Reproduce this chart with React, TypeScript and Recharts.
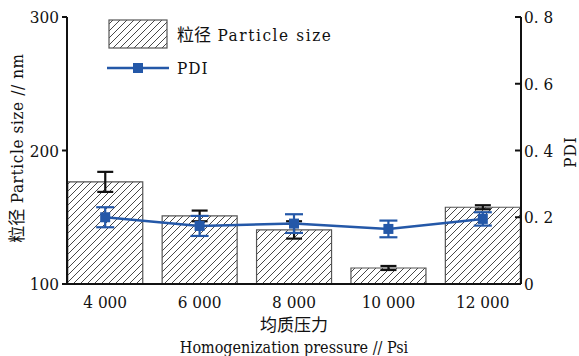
import { ComposedChart, Bar, Line, XAxis, YAxis, ErrorBar } from 'recharts';

const pressures = ['4 000', '6 000', '8 000', '10 000', '12 000'];
const sizes = [176.5, 151, 140.5, 112, 157.5];
const sizeErrs = [7.5, 4, 6.5, 1.5, 1.5];
const pdis = [0.2, 0.174, 0.181, 0.165, 0.195];
const pdiErrs = [0.03, 0.03, 0.028, 0.025, 0.02];

const sizeTicks = [100, 200, 300];
const pdiTicks = [0, 0.2, 0.4, 0.6, 0.8];

const BLUE = '#2458a8';
const SERIF = 'DejaVu Serif Condensed, DejaVu Serif, serif';
const CJK = 'Noto Sans CJK SC, sans-serif';

const data = pressures.map((p, i) => ({
  name: p,
  size: sizes[i],
  sizeErr: sizeErrs[i],
  pdi: pdis[i],
  pdiErr: pdiErrs[i],
}));

const fmtPdi = (v: number) => (v === 0 ? '0' : v.toFixed(1).replace('.', '. '));

const SquareDot = (props: any) => {
  const { cx, cy } = props;
  if (cx == null || cy == null) return null;
  return <rect x={cx - 5} y={cy - 5} width={10} height={10} fill={BLUE} />;
};

const serifText = { fontFamily: SERIF, fontSize: 17, fill: '#111' };

// left axis labels
const LeftTick = (props: any) => {
  const { x, y, payload } = props;
  return (
    <text x={x} y={y} dy={6} textAnchor="end" style={serifText}>
      {payload.value}
    </text>
  );
};

// right axis: tick marks point inward, labels sit right against the axis line
const RightTick = (props: any) => {
  const { x, y, payload } = props;
  const ax = x - 3;
  return (
    <g>
      <line x1={ax - 6} y1={y} x2={ax} y2={y} stroke="#111" strokeWidth={2} />
      <text x={x} y={y} dy={6} textAnchor="start" style={serifText}>
        {fmtPdi(payload.value)}
      </text>
    </g>
  );
};

const BottomTick = (props: any) => {
  const { x, y, payload } = props;
  return (
    <text x={x} y={y} dy={14} textAnchor="middle" style={serifText}>
      {payload.value}
    </text>
  );
};

export default function App() {
  return (
    <div style={{ position: 'absolute', left: 0, top: 0, width: 579, height: 356, background: '#fff' }}>
      <svg width={0} height={0} style={{ position: 'absolute' }}>
        <defs>
          <pattern id="hatch" patternUnits="userSpaceOnUse" width={7} height={7}>
            <path d="M-1,1 l2,-2 M0,7 l7,-7 M6,8 l2,-2" stroke="#333" strokeWidth={0.9} />
          </pattern>
        </defs>
      </svg>
      <ComposedChart
        width={579}
        height={356}
        data={data}
        margin={{ top: 17, right: 8, bottom: 42, left: 17 }}
        barCategoryGap={9.75}
      >
        <XAxis
          dataKey="name"
          height={30}
          padding={{ left: -9, right: -9 }}
          tickLine={false}
          axisLine={{ stroke: '#111', strokeWidth: 2 }}
          tick={<BottomTick />}
          tickMargin={4}
          interval={0}
        />
        <YAxis
          yAxisId="left"
          width={50}
          domain={[100, 300]}
          ticks={sizeTicks}
          allowDataOverflow
          axisLine={{ stroke: '#111', strokeWidth: 2 }}
          tickLine={{ stroke: '#111', strokeWidth: 2 }}
          tickSize={5}
          tickMargin={3}
          tick={<LeftTick />}
        />
        <YAxis
          yAxisId="right"
          orientation="right"
          width={50}
          domain={[0, 0.8]}
          ticks={pdiTicks}
          axisLine={{ stroke: '#111', strokeWidth: 2 }}
          tickLine={false}
          tickSize={0}
          tickMargin={3}
          tick={<RightTick />}
        />
        <Bar
          yAxisId="left"
          dataKey="size"
          fill="url(#hatch)"
          stroke="#555"
          strokeWidth={1.2}
          isAnimationActive={false}
        >
          <ErrorBar dataKey="sizeErr" width={8} stroke="#111" strokeWidth={2.2} />
        </Bar>
        <Line
          yAxisId="right"
          dataKey="pdi"
          stroke={BLUE}
          strokeWidth={2.5}
          dot={<SquareDot />}
          activeDot={false}
          isAnimationActive={false}
        >
          <ErrorBar dataKey="pdiErr" width={9} stroke={BLUE} strokeWidth={2.2} />
        </Line>
      </ComposedChart>

      <svg width={579} height={356} style={{ position: 'absolute', left: 0, top: 0, pointerEvents: 'none' }}>
        <rect x={109} y={20} width={58} height={28} fill="url(#hatch)" stroke="#555" strokeWidth={1.2} />
        <text x={177} y={41} style={{ ...serifText, letterSpacing: 1.6 }}>
          <tspan style={{ fontFamily: CJK, letterSpacing: 0 }}>粒径</tspan> Particle size
        </text>
        <line x1={107} y1={68} x2={169} y2={68} stroke={BLUE} strokeWidth={2.5} />
        <rect x={133} y={63} width={10} height={10} fill={BLUE} />
        <text x={177} y={74} style={{ ...serifText, letterSpacing: 1 }}>PDI</text>

        <text
          transform="translate(23,148) rotate(-90)"
          textAnchor="middle"
          style={{ ...serifText, letterSpacing: 0.6 }}
        >
          <tspan style={{ fontFamily: CJK, letterSpacing: 0 }}>粒径</tspan> Particle size // nm
        </text>
        <text transform="translate(576,152) rotate(-90)" textAnchor="middle" style={{ ...serifText, letterSpacing: 1 }}>
          PDI
        </text>
        <text x={294} y={331} textAnchor="middle" style={{ fontFamily: CJK, fontSize: 17, fill: '#111' }}>
          均质压力
        </text>
        <text x={294} y={353} textAnchor="middle" style={{ ...serifText, fontSize: 16, letterSpacing: 0 }}>
          Homogenization pressure // Psi
        </text>
      </svg>
    </div>
  );
}
